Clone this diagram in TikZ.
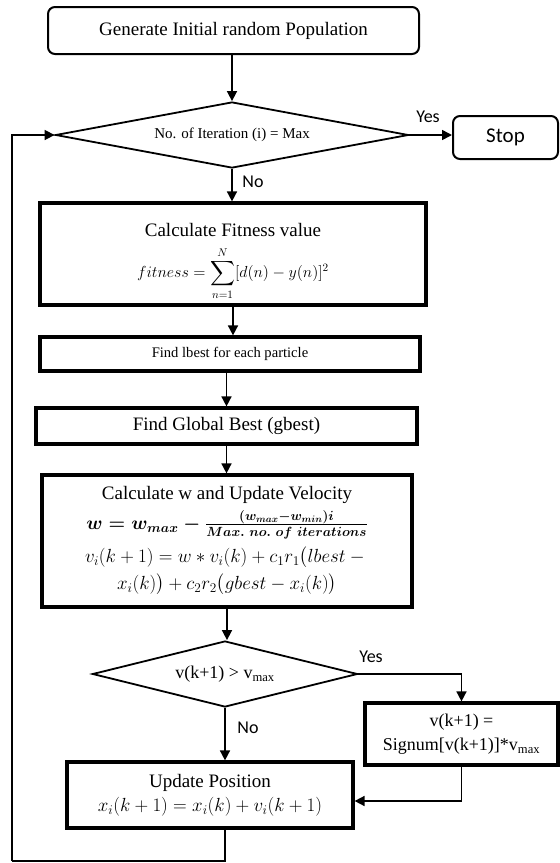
\RequirePackage{fix-cm}
\documentclass[tikz,border=0pt]{standalone}
\usepackage{amsmath}
\usepackage{fontspec}
\setmainfont{Liberation Serif}
\newfontfamily\calib{Carlito}
\usetikzlibrary{shapes.geometric,arrows.meta}
\begin{document}
\begin{tikzpicture}[x=1pt,y=-1pt,
  arr/.style={-{Triangle[length=10pt,width=10pt]}, line width=1.6pt},
  flow/.style={line width=1.6pt},
  box/.style={draw, rectangle, line width=3.2pt, inner sep=0pt, align=center},
  rbox/.style={draw, rectangle, rounded corners=7pt, line width=2pt, inner sep=0pt, align=center},
  dec/.style={draw, diamond, line width=1.8pt, inner sep=0pt, aspect=4, align=center},
  lbl/.style={font=\calib\fontsize{18}{20}\selectfont},
  txt/.style={font=\fontsize{19}{23}\selectfont}
]
\useasboundingbox (0,0) rectangle (560,863);

\node[rbox, txt, minimum width=371pt, minimum height=47pt] (gen) at (233.5,30.5) {Generate Initial random Population};
\node[dec, font=\fontsize{15}{17}\selectfont, minimum width=353pt, minimum height=66pt] (d1) at (232,135) {No. of Iteration (i) = Max};
\node[rbox, font=\calib\fontsize{21}{24}\selectfont, minimum width=105pt, minimum height=43pt] (stop) at (505.5,137.5) {Stop};

\node[box, txt, minimum width=386pt, minimum height=102pt] (fit) at (233,254)
  {\rule{0pt}{28pt}Calculate Fitness value\\[10pt]
   {\fontsize{16}{18}\selectfont $\displaystyle fitness=\sum_{n=1}^{N}[d(n)-y(n)]^2$}};
\node[box, font=\fontsize{14.6}{17}\selectfont, minimum width=380pt, minimum height=34pt] (lb) at (230,354) {Find lbest for each particle};
\node[box, txt, minimum width=381pt, minimum height=36pt] (gb) at (226.5,426) {Find Global Best (gbest)};

\node[box, txt, minimum width=370pt, minimum height=132pt] (vel) at (227,541)
  {Calculate w and Update Velocity\\[6pt]
   $\boldsymbol{w = w_{max} - \tfrac{(w_{max}-w_{min})i}{Max.\ no.\ of\ iterations}}$\\[6pt]
   $v_i(k+1) = w * v_i(k) + c_1 r_1\bigl(lbest -{}$\\[4pt]
   $x_i(k)\bigr) + c_2 r_2\bigl(gbest - x_i(k)\bigr)$};

\node[dec, font=\fontsize{18}{20}\selectfont, minimum width=265pt, minimum height=66pt] (d2) at (225,674) {v(k+1) > v\textsubscript{max}};
\node[box, font=\fontsize{18}{24}\selectfont, minimum width=193pt, minimum height=62pt] (sig) at (461.5,734)
  {v(k+1) =\\ Signum[v(k+1)]*v\textsubscript{max}};
\node[box, txt, minimum width=286pt, minimum height=66pt] (upd) at (210,795)
  {Update Position\\[1pt] $x_i(k+1) = x_i(k) + v_i(k+1)$};

\node[lbl] (y1) at (428,117) {Yes};
\node[lbl] (n1) at (253,182) {No};
\node[lbl] (y2) at (371,657) {Yes};
\node[lbl] (n2) at (248,728) {No};

\draw[arr] (gen.south -| d1.north) -- (d1.north);
\draw[arr] (d1.east) -- (d1.east -| stop.west);
\draw[arr] (d1.south) -- (d1.south |- fit.north);
\draw[arr] (fit.south) -- (fit.south |- lb.north);
\draw[arr] (lb.south -| gb.north) -- (gb.north);
\draw[arr] (gb.south) -- (gb.south |- vel.north);
\draw[arr] (vel.south) -- (vel.south |- d2.north);
\draw[arr] (d2.east) -| (sig.north);
\draw[arr] (d2.south) -- (d2.south |- upd.north);
\coordinate (j1) at (461.5,801);
\draw[arr] (sig.south) -- (j1) -- (j1 -| upd.east);
\coordinate (c0) at (upd.south -| d2.south);
\coordinate (c1) at (12,861);
\draw[flow] (c0) -- (c0 |- c1) -- (c1);
\draw[arr] (c1) -- (c1 |- d1.west) -- (d1.west);
\end{tikzpicture}
\end{document}
